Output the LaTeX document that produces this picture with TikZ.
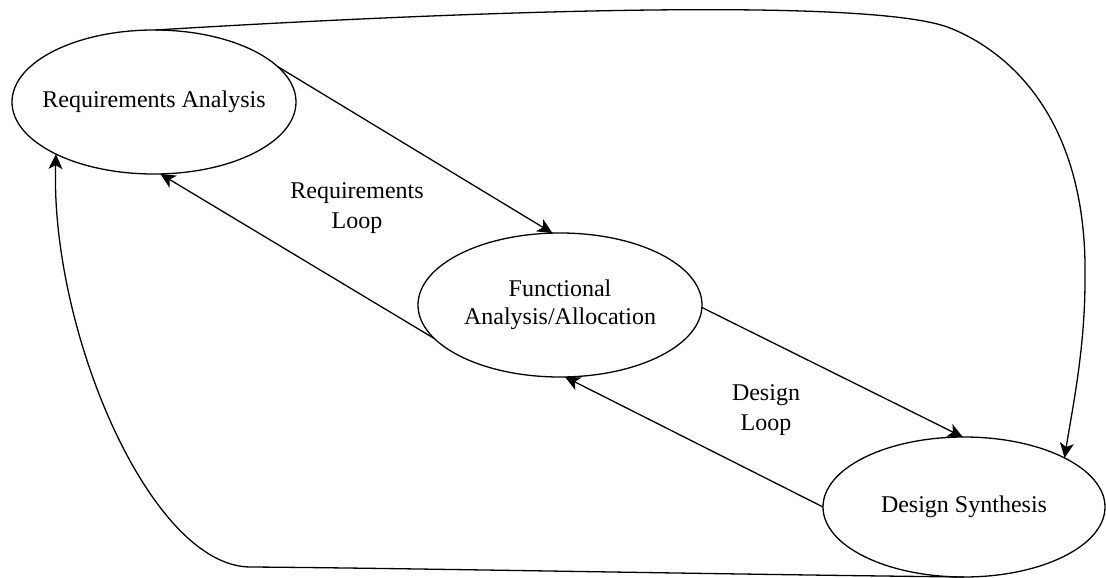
\documentclass[tikz,border=0pt]{standalone}
\usepackage{fontspec}
\setmainfont{Liberation Serif}
\newfontfamily\labelserif{Liberation Serif}
\usetikzlibrary{shapes.geometric, arrows.meta}
\begin{document}
\begin{tikzpicture}[x=1pt, y=-1pt,
  proc/.style={draw, ellipse, line width=1.3pt, inner sep=0pt, outer sep=0pt,
    minimum width=284pt, minimum height=144pt, font=\labelserif\fontsize{24}{28}\selectfont},
  flow/.style={line width=1.3pt, -{Stealth[length=15pt,width=14pt,inset=4pt]}},
  looplabel/.style={align=center, inner sep=0pt, font=\labelserif\fontsize{24}{30}\selectfont}
]
\useasboundingbox (0,0) rectangle (1106,578);

% process ellipses
\node[proc] (ra) at (154,102) {\makebox[0pt]{Requirements Analysis}};
\node[proc] (fa) at (560,305) {\makebox[0pt]{\begin{tabular}{@{}c@{}}Functional\\Analysis/Allocation\end{tabular}}};
\node[proc, minimum width=282pt, minimum height=140pt] (ds) at (964,507) {\makebox[0pt]{Design Synthesis}};

% loop labels
\node[looplabel] (rl) at (357,208) {Requirements\\Loop};
\node[looplabel] (dl) at (766,410) {Design\\Loop};

% requirements loop
\draw[flow] (ra.16) -- (fa.96);
\draw[flow] (fa.195) -- (ra.275);

% design loop
\draw[flow] (fa.359) -- (ds.91);
\draw[flow] (ds.180) -- (fa.274);

% outer verification loops
\draw[flow] (ra.89) .. controls (450,12) and (870,-4) .. (950,28)
  .. controls (1010,52) and (1088,120) .. (1085,280)
  .. controls (1085,350) and (1072,410) .. (ds.26);
\draw[flow] (ds.south) .. controls (700,574) and (400,568) .. (250,567)
  .. controls (150,566) and (50,330) .. (ra.208);
\end{tikzpicture}
\end{document}
